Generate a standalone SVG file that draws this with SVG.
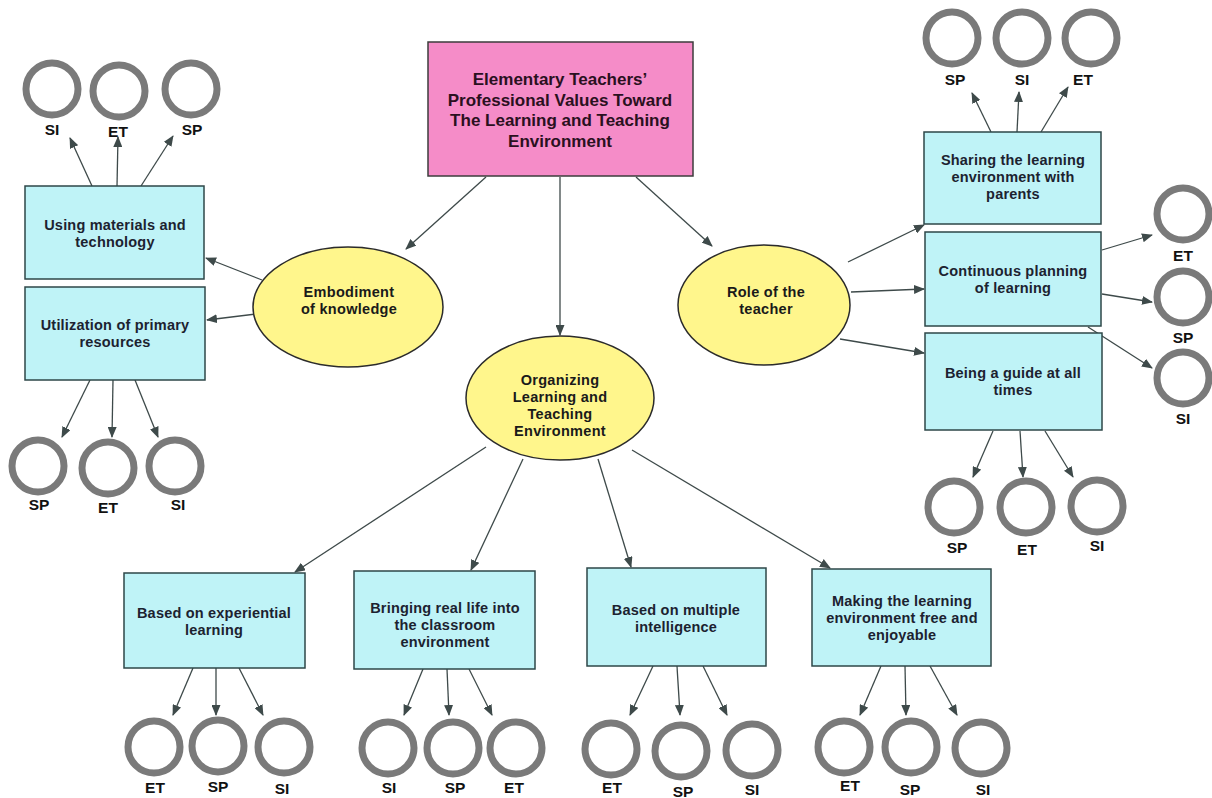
<svg xmlns="http://www.w3.org/2000/svg" width="1212" height="798" viewBox="0 0 1212 798">
  <style>
    .box { fill: #bff3f7; stroke: #2e4748; stroke-width: 1.5; }
    .oval { fill: #fff68c; stroke: #2b2b2b; stroke-width: 1.5; }
    .root { fill: #f58cc8; stroke: #3c3c3c; stroke-width: 1.5; }
    .ring { fill: none; stroke: #7a7a7a; stroke-width: 7; }
    .t { font-family: "Liberation Sans", Arial, sans-serif; font-weight: bold; font-size: 14.5px; letter-spacing: 0.2px; fill: #1c2230; text-anchor: middle; }
    .to { font-family: "Liberation Sans", Arial, sans-serif; font-weight: bold; font-size: 14.5px; letter-spacing: 0.3px; fill: #1a1a1a; text-anchor: middle; }
    .tr { font-family: "Liberation Sans", Arial, sans-serif; font-weight: bold; font-size: 17px; fill: #2a1020; text-anchor: middle; }
    .lbl { font-family: "Liberation Sans", Arial, sans-serif; font-weight: bold; font-size: 15.5px; fill: #111; text-anchor: middle; }
    .edge { stroke: #3e4a4a; stroke-width: 1.3; fill: none; marker-end: url(#arrow); }
  </style>
  <defs>
    <marker id="arrow" markerUnits="userSpaceOnUse" markerWidth="11" markerHeight="9" refX="10" refY="4.5" orient="auto">
      <path d="M0,0 L11,4.5 L0,9 z" fill="#3e4a4a"/>
    </marker>
  </defs>
  <rect width="1212" height="798" fill="#ffffff"/>

  <!-- connectors -->
  <g id="connectors">
    <!-- root to themes -->
    <line class="edge" x1="486" y1="177" x2="406" y2="249"/>
    <line class="edge" x1="560" y1="177" x2="560" y2="335"/>
    <line class="edge" x1="636" y1="177" x2="712" y2="246"/>
    <!-- Embodiment of knowledge -->
    <line class="edge" x1="262" y1="280" x2="206" y2="258"/>
    <line class="edge" x1="256" y1="314" x2="207" y2="320"/>
    <!-- Role of the teacher -->
    <line class="edge" x1="848" y1="262" x2="924" y2="225"/>
    <line class="edge" x1="851" y1="292" x2="924" y2="289"/>
    <line class="edge" x1="840" y1="339" x2="924" y2="353"/>
    <!-- Organizing -->
    <line class="edge" x1="486" y1="447" x2="295" y2="572"/>
    <line class="edge" x1="523" y1="459" x2="471" y2="570"/>
    <line class="edge" x1="598" y1="459" x2="631" y2="567"/>
    <line class="edge" x1="632" y1="450" x2="830" y2="568"/>
    <!-- Using materials and technology -->
    <line class="edge" x1="92" y1="186" x2="70" y2="138"/>
    <line class="edge" x1="117" y1="186" x2="118" y2="137"/>
    <line class="edge" x1="141" y1="186" x2="173" y2="136"/>
    <!-- Utilization of primary resources -->
    <line class="edge" x1="90" y1="380" x2="62" y2="437"/>
    <line class="edge" x1="113" y1="380" x2="112" y2="437"/>
    <line class="edge" x1="135" y1="380" x2="158" y2="437"/>
    <!-- Sharing -->
    <line class="edge" x1="991" y1="132" x2="972" y2="93"/>
    <line class="edge" x1="1017" y1="132" x2="1019" y2="92"/>
    <line class="edge" x1="1041" y1="132" x2="1068" y2="87"/>
    <!-- Continuous planning -->
    <line class="edge" x1="1102" y1="250" x2="1152" y2="235"/>
    <line class="edge" x1="1102" y1="294" x2="1152" y2="302"/>
    <line class="edge" x1="1088" y1="327" x2="1152" y2="368"/>
    <!-- Being a guide -->
    <line class="edge" x1="993" y1="431" x2="973" y2="477"/>
    <line class="edge" x1="1020" y1="431" x2="1023" y2="477"/>
    <line class="edge" x1="1045" y1="431" x2="1073" y2="477"/>
    <!-- Experiential -->
    <line class="edge" x1="193" y1="668" x2="173" y2="715"/>
    <line class="edge" x1="216" y1="668" x2="216" y2="715"/>
    <line class="edge" x1="239" y1="668" x2="263" y2="715"/>
    <!-- Bringing real life -->
    <line class="edge" x1="423" y1="669" x2="404" y2="715"/>
    <line class="edge" x1="447" y1="669" x2="449" y2="715"/>
    <line class="edge" x1="469" y1="669" x2="492" y2="715"/>
    <!-- Multiple intelligence -->
    <line class="edge" x1="653" y1="666" x2="630" y2="715"/>
    <line class="edge" x1="677" y1="666" x2="680" y2="715"/>
    <line class="edge" x1="703" y1="666" x2="727" y2="715"/>
    <!-- Free and enjoyable -->
    <line class="edge" x1="881" y1="666" x2="860" y2="715"/>
    <line class="edge" x1="905" y1="666" x2="906" y2="715"/>
    <line class="edge" x1="930" y1="666" x2="957" y2="715"/>
  </g>

  <!-- root -->
  <g id="root">
    <rect class="root" x="428" y="42" width="265" height="134"/>
    <text class="tr" x="560" y="85">Elementary Teachers’</text>
    <text class="tr" x="560" y="106">Professional Values Toward</text>
    <text class="tr" x="560" y="126">The Learning and Teaching</text>
    <text class="tr" x="560" y="147">Environment</text>
  </g>

  <!-- themes -->
  <g id="embodiment">
    <ellipse class="oval" cx="348" cy="307" rx="95" ry="60"/>
    <text class="to" x="349" y="297">Embodiment</text>
    <text class="to" x="349" y="314">of knowledge</text>
  </g>
  <g id="organizing">
    <ellipse class="oval" cx="560" cy="398" rx="94" ry="62"/>
    <text class="to" x="560" y="385">Organizing</text>
    <text class="to" x="560" y="402">Learning and</text>
    <text class="to" x="560" y="419">Teaching</text>
    <text class="to" x="560" y="436">Environment</text>
  </g>
  <g id="role">
    <ellipse class="oval" cx="764" cy="305" rx="86" ry="60"/>
    <text class="to" x="766" y="297">Role of the</text>
    <text class="to" x="766" y="314">teacher</text>
  </g>

  <!-- sub-themes -->
  <g id="materials">
    <rect class="box" x="25" y="186" width="179" height="93"/>
    <text class="t" x="115" y="230">Using materials and</text>
    <text class="t" x="115" y="247">technology</text>
  </g>
  <g id="primary">
    <rect class="box" x="25" y="287" width="180" height="93"/>
    <text class="t" x="115" y="330">Utilization of primary</text>
    <text class="t" x="115" y="347">resources</text>
  </g>
  <g id="sharing">
    <rect class="box" x="924" y="132" width="177" height="92"/>
    <text class="t" x="1013" y="165">Sharing the learning</text>
    <text class="t" x="1013" y="182">environment with</text>
    <text class="t" x="1013" y="199">parents</text>
  </g>
  <g id="planning">
    <rect class="box" x="925" y="232" width="176" height="94"/>
    <text class="t" x="1013" y="276">Continuous planning</text>
    <text class="t" x="1013" y="293">of learning</text>
  </g>
  <g id="guide">
    <rect class="box" x="925" y="333" width="177" height="97"/>
    <text class="t" x="1013" y="378">Being a guide at all</text>
    <text class="t" x="1013" y="395">times</text>
  </g>
  <g id="experiential">
    <rect class="box" x="124" y="573" width="181" height="95"/>
    <text class="t" x="214" y="618">Based on experiential</text>
    <text class="t" x="214" y="635">learning</text>
  </g>
  <g id="reallife">
    <rect class="box" x="354" y="571" width="181" height="98"/>
    <text class="t" x="445" y="613">Bringing real life into</text>
    <text class="t" x="445" y="630">the classroom</text>
    <text class="t" x="445" y="647">environment</text>
  </g>
  <g id="multiple">
    <rect class="box" x="587" y="568" width="179" height="98"/>
    <text class="t" x="676" y="615">Based on multiple</text>
    <text class="t" x="676" y="632">intelligence</text>
  </g>
  <g id="enjoyable">
    <rect class="box" x="812" y="569" width="179" height="97"/>
    <text class="t" x="902" y="606">Making the learning</text>
    <text class="t" x="902" y="623">environment free and</text>
    <text class="t" x="902" y="640">enjoyable</text>
  </g>

  <!-- outcome rings -->
  <g id="rings-materials">
    <circle class="ring" cx="52" cy="89" r="26"/>
    <circle class="ring" cx="119" cy="91" r="26"/>
    <circle class="ring" cx="191" cy="89" r="26"/>
    <text class="lbl" x="52" y="135">SI</text>
    <text class="lbl" x="118" y="137">ET</text>
    <text class="lbl" x="192" y="135">SP</text>
  </g>
  <g id="rings-primary">
    <circle class="ring" cx="38" cy="466" r="26"/>
    <circle class="ring" cx="108" cy="468" r="26"/>
    <circle class="ring" cx="175" cy="466" r="26"/>
    <text class="lbl" x="39" y="510">SP</text>
    <text class="lbl" x="108" y="513">ET</text>
    <text class="lbl" x="178" y="510">SI</text>
  </g>
  <g id="rings-sharing">
    <circle class="ring" cx="952" cy="38" r="26"/>
    <circle class="ring" cx="1022" cy="38" r="26"/>
    <circle class="ring" cx="1091" cy="38" r="26"/>
    <text class="lbl" x="955" y="85">SP</text>
    <text class="lbl" x="1022" y="85">SI</text>
    <text class="lbl" x="1083" y="85">ET</text>
  </g>
  <g id="rings-planning">
    <circle class="ring" cx="1183" cy="214" r="26"/>
    <circle class="ring" cx="1183" cy="297" r="26"/>
    <circle class="ring" cx="1183" cy="378" r="26"/>
    <text class="lbl" x="1183" y="261">ET</text>
    <text class="lbl" x="1183" y="343">SP</text>
    <text class="lbl" x="1183" y="424">SI</text>
  </g>
  <g id="rings-guide">
    <circle class="ring" cx="954" cy="507" r="26"/>
    <circle class="ring" cx="1026" cy="507" r="26"/>
    <circle class="ring" cx="1097" cy="506" r="26"/>
    <text class="lbl" x="957" y="553">SP</text>
    <text class="lbl" x="1027" y="555">ET</text>
    <text class="lbl" x="1097" y="551">SI</text>
  </g>
  <g id="rings-experiential">
    <circle class="ring" cx="154" cy="747" r="26"/>
    <circle class="ring" cx="218" cy="746" r="26"/>
    <circle class="ring" cx="284" cy="747" r="26"/>
    <text class="lbl" x="155" y="793">ET</text>
    <text class="lbl" x="218" y="792">SP</text>
    <text class="lbl" x="282" y="794">SI</text>
  </g>
  <g id="rings-reallife">
    <circle class="ring" cx="388" cy="748" r="26"/>
    <circle class="ring" cx="453" cy="748" r="26"/>
    <circle class="ring" cx="516" cy="748" r="26"/>
    <text class="lbl" x="389" y="793">SI</text>
    <text class="lbl" x="455" y="793">SP</text>
    <text class="lbl" x="514" y="793">ET</text>
  </g>
  <g id="rings-multiple">
    <circle class="ring" cx="611" cy="749" r="26"/>
    <circle class="ring" cx="681" cy="751" r="26"/>
    <circle class="ring" cx="752" cy="750" r="26"/>
    <text class="lbl" x="612" y="793">ET</text>
    <text class="lbl" x="683" y="797">SP</text>
    <text class="lbl" x="752" y="795">SI</text>
  </g>
  <g id="rings-enjoyable">
    <circle class="ring" cx="844" cy="747" r="26"/>
    <circle class="ring" cx="911" cy="747" r="26"/>
    <circle class="ring" cx="981" cy="748" r="26"/>
    <text class="lbl" x="850" y="791">ET</text>
    <text class="lbl" x="910" y="795">SP</text>
    <text class="lbl" x="983" y="795">SI</text>
  </g>
</svg>
